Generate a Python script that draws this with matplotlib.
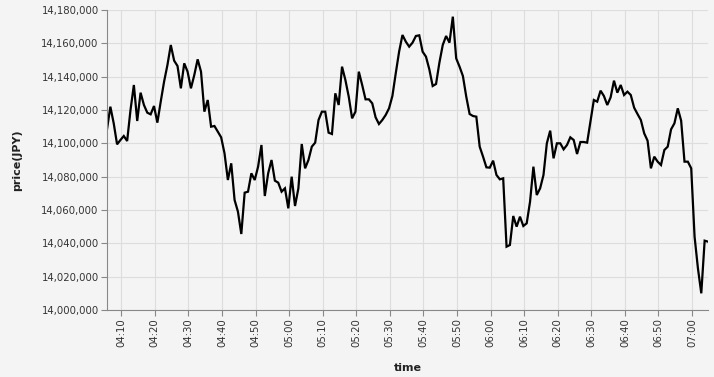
import matplotlib
matplotlib.use('Agg')
import matplotlib.pyplot as plt
import matplotlib.dates as mdates
import matplotlib.ticker as mticker
import numpy as np
import pandas as pd

# one price per minute
start_time = '2024-01-01 04:05:45'
prices = [
    # 04:05 - 04:35
    14108400, 14122000, 14112000, 14099400, 14102000, 14104400, 14101400, 14120000,
    14135000, 14113400, 14130400, 14123000, 14118400, 14117400, 14122400, 14112400,
    14125000, 14137000, 14147000, 14159000, 14149600, 14146400, 14133000, 14148000,
    14143000, 14133000, 14141000, 14150400, 14143000, 14119000,
    # 04:35 - 05:05
    14126000, 14110000, 14110400, 14107000, 14103600, 14094000, 14078000, 14088000,
    14066000, 14059000, 14045600, 14070400, 14071000, 14082000, 14078000, 14086000,
    14099000, 14068400, 14082000, 14090000, 14077600, 14076400, 14071000, 14073000,
    14061000, 14080000, 14062400, 14073000, 14099600, 14085000,
    # 05:05 - 05:35
    14090000, 14098000, 14100400, 14114000, 14119000, 14119000, 14106400, 14105600,
    14130000, 14123000, 14146000, 14138000, 14128000, 14115000, 14119000, 14143000,
    14135000, 14126400, 14126400, 14124000, 14115600, 14111600, 14114000, 14117000,
    14121000, 14128400, 14142000, 14155000, 14165000, 14161000,
    # 05:35 - 06:05
    14158000, 14160400, 14164400, 14164800, 14155000, 14152000, 14144400, 14134400,
    14135600, 14148400, 14159000, 14164400, 14160400, 14176000, 14151000, 14146000,
    14140400, 14128000, 14117600, 14116400, 14116000, 14098000, 14092000, 14085600,
    14085400, 14089600, 14081000, 14078400, 14079000, 14038000,
    # 06:05 - 06:35
    14039000, 14056400, 14050000, 14056000, 14050400, 14052000, 14065000, 14086000,
    14069000, 14073000, 14081000, 14100000, 14107600, 14091000, 14100000, 14100000,
    14096400, 14099000, 14103600, 14102000, 14093600, 14100800, 14100800, 14100400,
    14113000, 14126000, 14125000, 14131600, 14128400, 14123000,
    # 06:35 - 07:05
    14127600, 14137600, 14130400, 14135000, 14129000, 14131000, 14129000, 14121400,
    14117600, 14114000, 14106000, 14101600, 14085000, 14092000, 14089000, 14087000,
    14096000, 14098000, 14108400, 14112000, 14121000, 14113600, 14089000, 14089000,
    14085000, 14044000, 14025000, 14010000, 14041600, 14041000,
]
times = pd.date_range(start_time, periods=len(prices), freq='1min')

bg = '#f4f4f4'
fig = plt.figure(figsize=(7.14, 3.77), dpi=100, facecolor=bg)
ax = fig.add_axes([107 / 714, 1 - 310 / 377, 601 / 714, 300 / 377])
ax.set_facecolor(bg)

ax.plot(times, prices, color='black', linewidth=1.6, solid_joinstyle='miter')

ax.set_xlim(times[0], times[-1])
ax.set_ylim(14000000, 14180000)
ax.yaxis.set_major_locator(mticker.MultipleLocator(20000))
ax.yaxis.set_major_formatter(mticker.FuncFormatter(lambda v, p: '{:,.0f}'.format(v)))
ax.xaxis.set_major_locator(mdates.MinuteLocator(byminute=range(0, 60, 10)))
ax.xaxis.set_major_formatter(mdates.DateFormatter('%H:%M'))

ax.grid(True, color='#dddddd', linewidth=0.8)
ax.set_axisbelow(True)
for s in ['top', 'right']:
    ax.spines[s].set_visible(False)
for s in ['left', 'bottom']:
    ax.spines[s].set_color('#888888')
    ax.spines[s].set_linewidth(0.8)

ax.tick_params(axis='both', colors='#888888', length=4, width=0.8, labelsize=7.3,
               labelcolor='#333333', pad=2)
for lab in ax.get_xticklabels():
    lab.set_rotation(90)
    lab.set_ha('center')
    lab.set_va('top')

ax.set_xlabel('time', fontsize=8, fontweight='bold', color='#222222', labelpad=11)
ax.set_ylabel('price(JPY)', fontsize=8, fontweight='bold', color='#222222', labelpad=14)

fig.savefig('out.png', dpi=100, facecolor=bg)
